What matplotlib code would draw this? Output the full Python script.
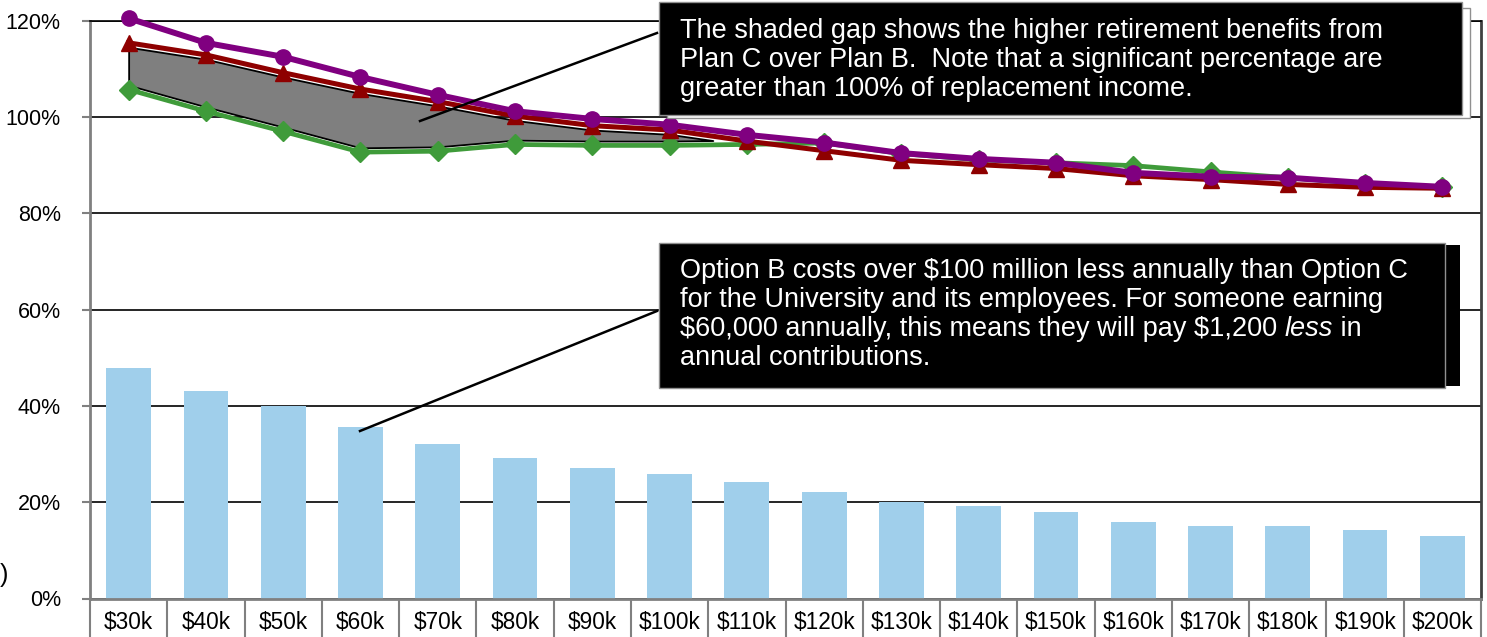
import matplotlib
matplotlib.use("Agg")
import matplotlib.pyplot as plt
from matplotlib.patches import Rectangle
from matplotlib.lines import Line2D
from matplotlib.ticker import FuncFormatter, FixedLocator
import numpy as np

plt.rcParams['font.family'] = ['Liberation Sans', 'DejaVu Sans']
plt.rcParams['text.parse_math'] = False

# data (percent of replacement income)
salaries = ['$30k', '$40k', '$50k', '$60k', '$70k', '$80k', '$90k', '$100k', '$110k',
            '$120k', '$130k', '$140k', '$150k', '$160k', '$170k', '$180k', '$190k', '$200k']
bar_values = [47.9, 43.0, 39.9, 35.7, 32.0, 29.1, 27.0, 25.8, 24.1,
              22.1, 20.0, 19.2, 17.9, 15.8, 15.0, 15.0, 14.2, 12.9]
purple_line = [120.5, 115.4, 112.5, 108.3, 104.6, 101.2, 99.6, 98.4, 96.3,
               94.7, 92.5, 91.3, 90.5, 88.4, 87.6, 87.4, 86.3, 85.5]
plan_c = [115.4, 112.9, 109.2, 105.8, 103.2, 100.2, 98.2, 97.3, 95.0,
          93.0, 91.0, 90.1, 89.3, 87.8, 87.0, 86.0, 85.4, 85.2]
plan_b = [105.7, 101.2, 97.0, 92.7, 92.9, 94.3, 94.1, 94.1, 94.3,
          94.6, 92.4, 91.1, 90.5, 89.9, 88.6, 87.4, 86.1, 85.4]
y_ticks = [0, 20, 40, 60, 80, 100, 120]

W, H = 1487, 637
fig = plt.figure(figsize=(W / 100, H / 100), dpi=100)
ax = fig.add_axes([90 / W, 38.5 / H, 1391 / W, 577.8 / H])

x = np.arange(len(salaries))
ax.bar(x, bar_values, width=0.58, color='#A0CFEB', zorder=2)

# shaded gap, kept just inside the two line strokes
gap_top = np.array(plan_c) - 0.9
gap_bottom = np.array(plan_b) + 0.9
ax.fill_between(x, gap_bottom, gap_top, where=gap_top >= gap_bottom,
                interpolate=True, facecolor='#7F7F7F', edgecolor='black', lw=1.3, zorder=3)

ax.plot(x, plan_b, color='#3F9B3A', lw=3.4, marker='D', ms=10, zorder=4, clip_on=False)
ax.plot(x, plan_c, color='#8E0000', lw=3.6, marker='^', ms=12, zorder=5, clip_on=False)
ax.plot(x, purple_line, color='#800080', lw=4.3, marker='o', ms=11, zorder=7, clip_on=False)

ax.set_xlim(-0.5, len(salaries) - 0.5)
ax.set_ylim(0, 120)
ax.yaxis.set_major_locator(FixedLocator(y_ticks))
ax.yaxis.set_major_formatter(FuncFormatter(lambda v, p: f'{v:.0f}%'))
ax.grid(axis='y', color='black', lw=1.2, zorder=1)
ax.set_axisbelow(True)
ax.tick_params(axis='y', length=6, width=1.5, color='#808080', pad=15, labelsize=15.5)

# category separators below the axis and labels centred between them
ax.xaxis.set_major_locator(FixedLocator(np.arange(-0.5, len(salaries), 1.0)))
ax.xaxis.set_major_formatter(FuncFormatter(lambda v, p: ''))
ax.xaxis.set_minor_locator(FixedLocator(x))
ax.set_xticklabels(salaries, minor=True)
ax.tick_params(axis='x', which='major', length=40, width=1.5, color='#808080')
ax.tick_params(axis='x', which='minor', length=0, pad=9, labelsize=16.3)

for side in ['left', 'bottom']:
    ax.spines[side].set_color('#808080')
    ax.spines[side].set_linewidth(2)
ax.spines['right'].set_color('#404040')
ax.spines['right'].set_linewidth(2)
ax.spines['top'].set_color('black')
ax.spines['top'].set_linewidth(1.2)


def fx(px):
    return px / W


def fy(py):
    return 1 - py / H


# callout leader lines
fig.add_artist(Line2D([fx(657), fx(420)], [fy(33), fy(121)], color='black', lw=1.8, zorder=10))
fig.add_artist(Line2D([fx(657), fx(360)], [fy(311), fy(431)], color='black', lw=1.8, zorder=10))

TXT = 19.5

# callout 1
fig.add_artist(Rectangle((fx(667), fy(118)), fx(803), 110 / H, facecolor='white',
                         edgecolor='#909090', lw=1, zorder=11))
fig.add_artist(Rectangle((fx(659), fy(115)), fx(803), 113 / H, facecolor='black',
                         edgecolor='#909090', lw=1, zorder=12))
box1 = ['The shaded gap shows the higher retirement benefits from',
        'Plan C over Plan B.  Note that a significant percentage are',
        'greater than 100% of replacement income.']
for i, line in enumerate(box1):
    fig.text(fx(680), fy(38 + 29 * i), line, color='white', fontsize=TXT,
             va='baseline', ha='left', zorder=13)

# callout 2
fig.add_artist(Rectangle((fx(664), fy(386)), fx(796), 141 / H, facecolor='black',
                         edgecolor='none', zorder=11))
fig.add_artist(Rectangle((fx(659), fy(388)), fx(786), 145 / H, facecolor='black',
                         edgecolor='#909090', lw=1, zorder=12))
box2 = ['Option B costs over $100 million less annually than Option C',
        'for the University and its employees. For someone earning',
        '$60,000 annually, this means they will pay $1,200 ',
        'annual contributions.']
texts = []
for i, line in enumerate(box2):
    t = fig.text(fx(680), fy(278 + 29 * i), line, color='white', fontsize=TXT,
                 va='baseline', ha='left', zorder=13)
    texts.append(t)

renderer = fig.canvas.get_renderer()
bb = texts[2].get_window_extent(renderer)
t_it = fig.text(bb.x1 / W, fy(278 + 29 * 2), 'less', color='white', fontsize=TXT,
                style='italic', va='baseline', ha='left', zorder=13)
bb2 = t_it.get_window_extent(renderer)
fig.text(bb2.x1 / W, fy(278 + 29 * 2), ' in', color='white', fontsize=TXT,
         va='baseline', ha='left', zorder=13)

# stray bracket at the far left edge
fig.text(0.0, fy(575), ')', fontsize=18, va='center', ha='left')

fig.savefig('out.png', dpi=100)
